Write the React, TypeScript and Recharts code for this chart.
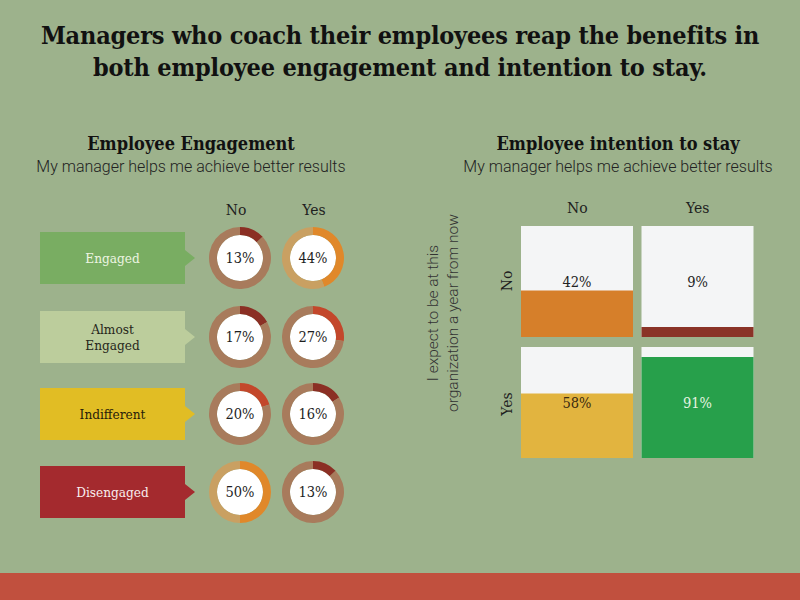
import React from 'react';
import { PieChart, Pie, Cell, Label, BarChart, Bar, XAxis, YAxis, LabelList } from 'recharts';

const titleLines = ['Managers who coach their employees reap the benefits in', 'both employee engagement and intention to stay.'];
const leftHeading = 'Employee Engagement';
const rightHeading = 'Employee intention to stay';
const subHeading = 'My manager helps me achieve better results';
const answerLabels = ['No', 'Yes'];
const engagementCategories = ['Engaged', 'Almost Engaged', 'Indifferent', 'Disengaged'];
const engagementNo = [13, 17, 20, 50];
const engagementYes = [44, 27, 16, 13];
const stayAxisTitle = ['I expect to be at this', 'organization a year from now'];
const stayRowNo = [42, 9];
const stayRowYes = [58, 91];

const BG = '#9db28c';
const SERIF = "'DejaVu Serif Condensed', 'DejaVu Serif', serif";
const SANS = "Roboto, 'Noto Sans', sans-serif";

const catBoxColors = ['#79ad62', '#bccd9c', '#e1bd24', '#a42a2e'];
const catTextColors = ['#eef5e2', '#26261a', '#26200a', '#f8eeee'];
const noSegColors = ['#8b2f24', '#8b2f24', '#c3472b', '#e0882a'];
const noRestColors = ['#a87b5c', '#a87b5c', '#a87b5c', '#c9a062'];
const yesSegColors = ['#e0882a', '#c3472b', '#8b2f24', '#8b2f24'];
const yesRestColors = ['#c9a062', '#a87b5c', '#a87b5c', '#a87b5c'];
const stayNoColors = ['#d67f2a', '#8a3327'];
const stayYesColors = ['#e2b43f', '#27a04b'];
const stayNoText = ['#222', '#222'];
const stayYesText = ['#3a2a10', '#e6f4e0'];

function Donut({ value, color, rest }: { value: number; color: string; rest: string }) {
  const data = [{ name: 'value', v: value }, { name: 'rest', v: 100 - value }];
  return (
    <PieChart width={66} height={66} margin={{ top: 2, right: 2, bottom: 2, left: 2 }}>
      <Pie data={[{ v: 1 }]} dataKey="v" cx="50%" cy="50%" innerRadius={0} outerRadius={23} fill="#ffffff" stroke="none" isAnimationActive={false} />
      <Pie data={data} dataKey="v" cx="50%" cy="50%" startAngle={90} endAngle={-270} innerRadius={23} outerRadius={31} stroke="none" isAnimationActive={false}>
        <Cell fill={color} />
        <Cell fill={rest} />
        <Label value={`${value}%`} position="center" fill="#1e1e1e" fontSize={14.5} fontFamily={SERIF} />
      </Pie>
    </PieChart>
  );
}

function CategoryBox({ label, color, text }: { label: string; color: string; text: string }) {
  const words = label.split(' ');
  return (
    <div style={{ position: 'relative', width: 155, height: 52 }}>
      <div style={{ position: 'absolute', left: 0, top: 0, width: 155, height: 52, background: color, clipPath: 'polygon(0 0, 145px 0, 145px 18px, 155px 26px, 145px 34px, 145px 52px, 0 52px)' }} />
      <div style={{ position: 'absolute', left: 0, top: 0, width: 145, height: 52, display: 'flex', flexDirection: 'column', alignItems: 'center', justifyContent: 'center', color: text, fontFamily: SERIF, fontSize: 13.5, lineHeight: '16px' }}>
        {label === 'Almost Engaged' ? words.map((w) => <div key={w}>{w}</div>) : label}
      </div>
    </div>
  );
}

function makeCenterLabel(textColors: string[]) {
  return (props: any) => {
    const { x, y, width, height, value, index } = props;
    const cx = Number(x) + Number(width) / 2;
    const cy = Number(y) + Number(height) - (Number(height) * 50) / Number(value);
    return (
      <text x={cx} y={cy} textAnchor="middle" dominantBaseline="central" fill={textColors[index]} fontSize={14.5} fontFamily={SERIF}>
        {`${value}%`}
      </text>
    );
  };
}

function StayRow({ values, colors, textColors, header }: { values: number[]; colors: string[]; textColors: string[]; header: boolean }) {
  const data = answerLabels.map((a, i) => ({ answer: a, value: values[i] }));
  return (
    <BarChart width={270} height={header ? 147 : 111} data={data} margin={{ top: header ? 6 : 0, right: 12, bottom: 0, left: 17 }} barSize={112}>
      <XAxis dataKey="answer" orientation="top" hide={!header} height={30} tickSize={11} axisLine={false} tickLine={false} tick={{ fill: '#1e1e1e', fontSize: 15.5, fontFamily: SERIF }} />
      <YAxis domain={[0, 100]} hide />
      <Bar dataKey="value" background={{ fill: '#f4f5f6' }} isAnimationActive={false}>
        {data.map((d, i) => <Cell key={d.answer} fill={colors[i]} />)}
        <LabelList dataKey="value" content={makeCenterLabel(textColors)} />
      </Bar>
    </BarChart>
  );
}

export default function App() {
  const rowTops = [225, 304, 381, 459];
  return (
    <div style={{ position: 'fixed', left: 0, top: 0, width: 800, height: 600, background: BG, overflow: 'hidden' }}>
      <div style={{ position: 'absolute', left: 0, top: 20, width: 800, textAlign: 'center', fontFamily: SERIF, fontWeight: 'bold', fontSize: 25, letterSpacing: -0.2, lineHeight: '32px', color: '#111' }}>
        {titleLines.map((t) => <div key={t}>{t}</div>)}
      </div>
      <div style={{ position: 'absolute', left: 0, top: 133, width: 382, textAlign: 'center', fontFamily: SERIF, fontWeight: 'bold', fontSize: 18, color: '#111' }}>{leftHeading}</div>
      <div style={{ position: 'absolute', left: 0, top: 157, width: 382, textAlign: 'center', fontFamily: SANS, fontWeight: 300, fontSize: 16, color: '#222' }}>{subHeading}</div>
      <div style={{ position: 'absolute', left: 436, top: 133, width: 364, textAlign: 'center', fontFamily: SERIF, fontWeight: 'bold', fontSize: 18, color: '#111' }}>{rightHeading}</div>
      <div style={{ position: 'absolute', left: 436, top: 157, width: 364, textAlign: 'center', fontFamily: SANS, fontWeight: 300, fontSize: 16, color: '#222' }}>{subHeading}</div>

      {answerLabels.map((a, i) => (
        <div key={a} style={{ position: 'absolute', left: 203 + i * 78, top: 201, width: 66, textAlign: 'center', fontFamily: SERIF, fontSize: 15.5, color: '#1e1e1e' }}>{a}</div>
      ))}
      {engagementCategories.map((c, i) => (
        <div key={c} style={{ position: 'absolute', left: 40, top: rowTops[i], display: 'flex', alignItems: 'center' }}>
          <CategoryBox label={c} color={catBoxColors[i]} text={catTextColors[i]} />
          <div style={{ marginLeft: 12 }}><Donut value={engagementNo[i]} color={noSegColors[i]} rest={noRestColors[i]} /></div>
          <div style={{ marginLeft: 7 }}><Donut value={engagementYes[i]} color={yesSegColors[i]} rest={yesRestColors[i]} /></div>
        </div>
      ))}

      <div style={{ position: 'absolute', left: 443 - 120, top: 293, width: 240, height: 40, textAlign: 'center', transform: 'rotate(-90deg)', fontFamily: SANS, fontWeight: 300, fontSize: 15.5, lineHeight: '20px', color: '#333' }}>
        {stayAxisTitle.map((t) => <div key={t}>{t}</div>)}
      </div>
      {answerLabels.map((a, i) => (
        <div key={a} style={{ position: 'absolute', left: 507 - 30, top: (i === 0 ? 281 : 404) - 10, width: 60, height: 20, lineHeight: '20px', textAlign: 'center', transform: 'rotate(-90deg)', fontFamily: SERIF, fontSize: 15.5, color: '#1e1e1e' }}>{a}</div>
      ))}
      <div style={{ position: 'absolute', left: 500, top: 190 }}>
        <StayRow values={stayRowNo} colors={stayNoColors} textColors={stayNoText} header />
      </div>
      <div style={{ position: 'absolute', left: 500, top: 347 }}>
        <StayRow values={stayRowYes} colors={stayYesColors} textColors={stayYesText} header={false} />
      </div>

      <div style={{ position: 'absolute', left: 0, top: 573, width: 800, height: 27, background: '#c1503e' }} />
    </div>
  );
}
